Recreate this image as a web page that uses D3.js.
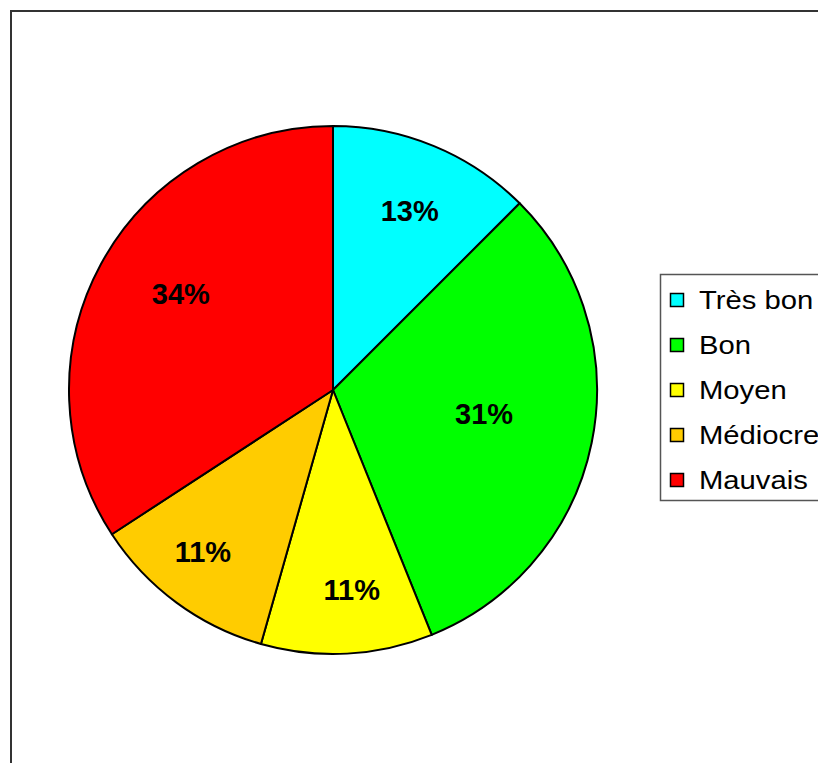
<!DOCTYPE html>
<html lang="fr">
<head>
    <meta charset="UTF-8"/>
    <title>Répartition des appréciations</title>
    <script src="https://d3js.org/d3.v7.min.js"></script>
    <style>
        body, html {
            margin: 0;
            padding: 0;
            background: #fff;
            font-family: "Liberation Sans", Arial, sans-serif;
        }
        svg { display: block; }
    </style>
</head>
<body>
<svg id="chart" width="818" height="763"></svg>
<script>
    // data (share of answers, %)
    const categories = ["Très bon", "Bon", "Moyen", "Médiocre", "Mauvais"];
    const values = [12.5, 31.4, 10.5, 11.4, 34.2];
    const colors = ["#00ffff", "#00ff00", "#ffff00", "#ffcc00", "#ff0000"];

    // layout
    const width = 818, height = 763;
    const cx = 333, cy = 390, radius = 264;
    // label placement: fraction of radius + small nudge, like Excel's "best fit"
    const labelRadius = [0.73, 0.58, 0.76, 0.78, 0.69];
    const labelNudge = [[3, -1], [1, -7], [8, -1], [-8, -4], [8, -10]];

    const svg = d3.select("#chart");

    // chart area frame, runs off the right and bottom edges
    svg.append("rect")
        .attr("x", 11)
        .attr("y", 11)
        .attr("width", 900)
        .attr("height", 900)
        .attr("fill", "none")
        .attr("stroke", "#333")
        .attr("stroke-width", 2);

    const pie = d3.pie().sort(null).value(d => d)(values);
    const arc = d3.arc().innerRadius(0).outerRadius(radius);

    const g = svg.append("g").attr("transform", `translate(${cx},${cy})`);

    g.selectAll("path")
        .data(pie)
        .enter()
        .append("path")
        .attr("d", arc)
        .attr("fill", (d, i) => colors[i])
        .attr("stroke", "#000")
        .attr("stroke-width", 2)
        .attr("stroke-linejoin", "round");

    g.selectAll("text.pct")
        .data(pie)
        .enter()
        .append("text")
        .attr("class", "pct")
        .attr("transform", (d, i) => {
            const r = radius * labelRadius[i];
            const a = (d.startAngle + d.endAngle) / 2;
            const x = r * Math.sin(a) + labelNudge[i][0];
            const y = -r * Math.cos(a) + labelNudge[i][1];
            return `translate(${x},${y})`;
        })
        .attr("text-anchor", "middle")
        .attr("dy", "0.36em")
        .style("font-size", "29px")
        .style("font-weight", "bold")
        .text(d => Math.round(d.value) + "%");

    // legend
    const legend = svg.append("g").attr("transform", "translate(660,274)");
    legend.append("rect")
        .attr("x", 0.5)
        .attr("y", 0.5)
        .attr("width", 300)
        .attr("height", 226)
        .attr("fill", "#fff")
        .attr("stroke", "#555")
        .attr("stroke-width", 1.5);

    const rowY = d3.scalePoint().domain(categories).range([26, 206]);

    const rows = legend.selectAll("g.row")
        .data(categories)
        .enter()
        .append("g")
        .attr("class", "row")
        .attr("transform", d => `translate(0,${rowY(d)})`);

    rows.append("rect")
        .attr("x", 10.5)
        .attr("y", -6.5)
        .attr("width", 13)
        .attr("height", 13)
        .attr("fill", (d, i) => colors[i])
        .attr("stroke", "#000")
        .attr("stroke-width", 1.5);

    // the original text is drawn a bit wide
    rows.append("text")
        .attr("transform", "translate(39,0) scale(1.17,1)")
        .attr("dy", "0.36em")
        .style("font-size", "25px")
        .text(d => d);
</script>
</body>
</html>
